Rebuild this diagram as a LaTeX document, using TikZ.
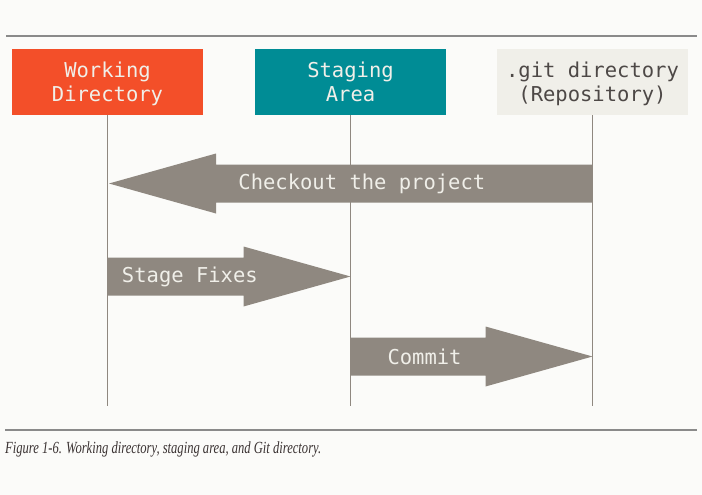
\documentclass[tikz,border=0pt]{standalone}
\usepackage{fontspec}
\setmainfont{Liberation Serif}
\newfontfamily\monofont{DejaVu Sans Mono}
\usetikzlibrary{calc, positioning}
\definecolor{paper}{RGB}{251,251,249}
\definecolor{gitorange}{RGB}{243,79,41}
\definecolor{gitteal}{RGB}{0,140,149}
\definecolor{gitcream}{RGB}{240,239,233}
\definecolor{gitgray}{RGB}{143,136,128}
\definecolor{gitdark}{RGB}{77,72,70}
\definecolor{captext}{RGB}{58,50,50}
\definecolor{rulegray}{RGB}{138,138,138}
\tikzstyle{area} = [rectangle, minimum width=191pt, minimum height=66pt, inner sep=0pt]
\tikzstyle{areatext} = [align=center, inner sep=0pt, text=gitcream, yshift=-3pt, font=\monofont\fontsize{20.5}{24}\selectfont]
\tikzstyle{life} = [draw=gitgray, line width=1.7pt]
\tikzstyle{flow} = [fill=gitgray]
\tikzstyle{flowtext} = [text=gitcream, inner sep=0pt, font=\monofont\fontsize{20.5}{24.5}\selectfont]
\tikzstyle{rule} = [draw=rulegray, line width=1.2pt]
% big flat arrow from #1 to #2, label #3 at pos #4
\newcommand{\flowarrow}[4]{%
\fill[flow] (#2) -- ($(#2)!107pt!(#1)!30pt!90:(#1)$) -- ($(#2)!107pt!(#1)!19pt!90:(#1)$)
  -- ($(#1)!19pt!-90:(#2)$) -- ($(#1)!19pt!90:(#2)$)
  -- ($(#2)!107pt!(#1)!19pt!-90:(#1)$) -- ($(#2)!107pt!(#1)!30pt!-90:(#1)$) -- cycle;
\path (#1) -- (#2) node[pos=#4, flowtext] {#3};}
\begin{document}
\begin{tikzpicture}[x=1pt, y=-1pt]
\fill[paper] (0,0) rectangle (702,495);
\draw[rule] (6,36) -- (697,36);
\node[area, fill=gitorange] (wd) at (107.5,82) {};
\node[area, fill=gitteal] (stage) at (350.5,82) {};
\node[area, fill=gitcream] (repo) at (592.5,82) {};
\node[areatext] (wd-text) at (wd) {Working\strut\\Directory\strut};
\node[areatext] (stage-text) at (stage) {Staging\strut\\Area\strut};
\node[areatext, text=gitdark] (repo-text) at (repo) {.git directory\strut\\(Repository)\strut};
\foreach \n in {wd, stage, repo}
  \draw[life] (\n.south) -- (\n.south |- 0,406) coordinate (\n-end);
% the three steps
\coordinate (co-from) at (repo.south |- 0,183.5);
\coordinate (co-to) at ($(wd.south |- 0,183.5)+(1.5,0)$);
\flowarrow{co-from}{co-to}{Checkout the project}{0.477}
\coordinate (sf-from) at (wd.south |- 0,276.5);
\coordinate (sf-to) at (stage.south |- 0,276.5);
\flowarrow{sf-from}{sf-to}{Stage Fixes}{0.339}
\coordinate (cm-from) at (stage.south |- 0,356.5);
\coordinate (cm-to) at (repo.south |- 0,356.5);
\flowarrow{cm-from}{cm-to}{Commit}{0.306}
\draw[rule] (5,430) -- (697,430);
\node[anchor=base west, inner sep=0pt, text=captext, font=\itshape\fontsize{17}{20}\selectfont] (caption) at (5,453) {\scalebox{0.74}[1]{Figure 1-6. Working directory, staging area, and Git directory.}};
\end{tikzpicture}
\end{document}
